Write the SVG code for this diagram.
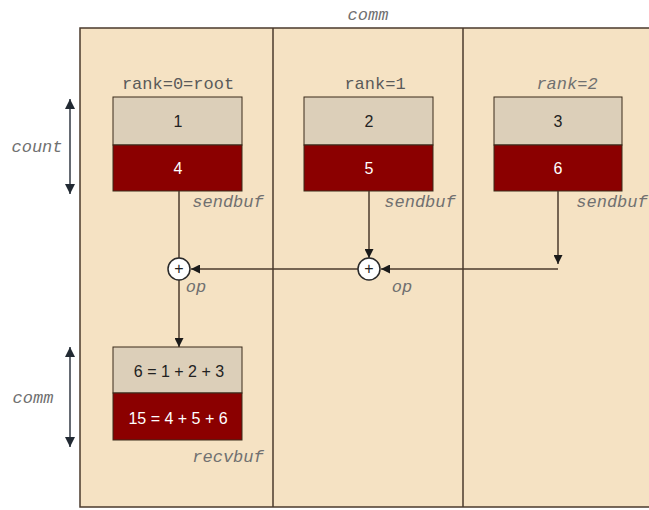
<svg xmlns="http://www.w3.org/2000/svg" width="649" height="510" viewBox="0 0 649 510">
<defs>
<style>
.lab{font-family:"Liberation Mono","Courier New",monospace;font-size:17px;fill:#5a5a5a}
.it{font-style:italic;fill:#707070}
.num{font-family:"Liberation Sans",Arial,sans-serif;font-size:16px;text-anchor:middle}
.light{fill:#dccfb9;stroke:#3a2a1a;stroke-width:1}
.dark{fill:#8b0000;stroke:#3a2a1a;stroke-width:1}
.conn{stroke:#4a3a2c;stroke-width:1.5;fill:none}
.dim{stroke:#333a44;stroke-width:1.5;fill:none}
.op{fill:#fff;stroke:#2a2a2a;stroke-width:1.5}
</style>
<marker id="ah" viewBox="0 0 10 10" refX="10" refY="5" markerWidth="9" markerHeight="9" orient="auto-start-reverse" markerUnits="userSpaceOnUse">
<path d="M0,0 L10,5 L0,10 z" fill="#1a1a1a"/>
</marker>
<marker id="dh" viewBox="0 0 10 10" refX="10" refY="5" markerWidth="10" markerHeight="10" orient="auto-start-reverse" markerUnits="userSpaceOnUse">
<path d="M0,0 L10,5 L0,10 z" fill="#222a33"/>
</marker>
</defs>
<rect width="649" height="510" fill="#ffffff"/>
<g id="comm-area">
<rect x="80" y="28" width="580" height="479" fill="#f5e2c3" stroke="#4a3a2c" stroke-width="1.5"/>
<line x1="273" y1="28" x2="273" y2="507" stroke="#4a3a2c" stroke-width="1.5"/>
<line x1="463" y1="28" x2="463" y2="507" stroke="#4a3a2c" stroke-width="1.5"/>
<text class="lab it" x="368" y="20" text-anchor="middle" font-size="16">comm</text>
</g>
<g id="dims">
<line class="dim" x1="70" y1="99" x2="70" y2="194" marker-start="url(#dh)" marker-end="url(#dh)"/>
<text class="lab it" x="37" y="152" text-anchor="middle">count</text>
<line class="dim" x1="70" y1="347" x2="70" y2="447" marker-start="url(#dh)" marker-end="url(#dh)"/>
<text class="lab it" x="33" y="403" text-anchor="middle" font-size="16">comm</text>
</g>
<g id="rank0">
<text class="lab" x="178" y="89" text-anchor="middle">rank=0=root</text>
<rect class="light" x="113" y="97" width="129" height="48"/>
<rect class="dark" x="113" y="145" width="129" height="46"/>
<text class="num" x="178" y="127" fill="#222">1</text>
<text class="num" x="178" y="174" fill="#fff">4</text>
<text class="lab it" x="228" y="207" text-anchor="middle">sendbuf</text>
</g>
<g id="rank1">
<text class="lab" x="375" y="89" text-anchor="middle">rank=1</text>
<rect class="light" x="304" y="97" width="129" height="48"/>
<rect class="dark" x="304" y="145" width="129" height="46"/>
<text class="num" x="369" y="127" fill="#222">2</text>
<text class="num" x="369" y="174" fill="#fff">5</text>
<text class="lab it" x="420" y="207" text-anchor="middle">sendbuf</text>
</g>
<g id="rank2">
<text class="lab it" x="567" y="89" text-anchor="middle">rank=2</text>
<rect class="light" x="494" y="97" width="128" height="48"/>
<rect class="dark" x="494" y="145" width="128" height="46"/>
<text class="num" x="558" y="127" fill="#222">3</text>
<text class="num" x="558" y="174" fill="#fff">6</text>
<text class="lab it" x="612" y="207" text-anchor="middle">sendbuf</text>
</g>
<g id="connectors">
<line class="conn" x1="179" y1="191" x2="179" y2="258"/>
<line class="conn" x1="369" y1="191" x2="369" y2="258" marker-end="url(#ah)"/>
<line class="conn" x1="558" y1="191" x2="558" y2="264" marker-end="url(#ah)"/>
<line class="conn" x1="558" y1="269" x2="381" y2="269" marker-end="url(#ah)"/>
<line class="conn" x1="358" y1="269" x2="191" y2="269" marker-end="url(#ah)"/>
<line class="conn" x1="179" y1="280" x2="179" y2="347" marker-end="url(#ah)"/>
</g>
<g id="op0">
<circle class="op" cx="179" cy="269" r="11"/>
<text class="num" x="179" y="274" fill="#222" font-size="14">+</text>
<text class="lab it" x="196" y="292" text-anchor="middle">op</text>
</g>
<g id="op1">
<circle class="op" cx="369" cy="269" r="11"/>
<text class="num" x="369" y="274" fill="#222" font-size="14">+</text>
<text class="lab it" x="402" y="292" text-anchor="middle">op</text>
</g>
<g id="recvbuf">
<rect class="light" x="113" y="347" width="129" height="46"/>
<rect class="dark" x="113" y="393" width="129" height="47"/>
<text class="num" x="179" y="377" fill="#222" font-size="17">6 = 1 + 2 + 3</text>
<text class="num" x="178" y="424" fill="#fff" font-size="17">15 = 4 + 5 + 6</text>
<text class="lab it" x="228" y="462" text-anchor="middle">recvbuf</text>
</g>
</svg>
